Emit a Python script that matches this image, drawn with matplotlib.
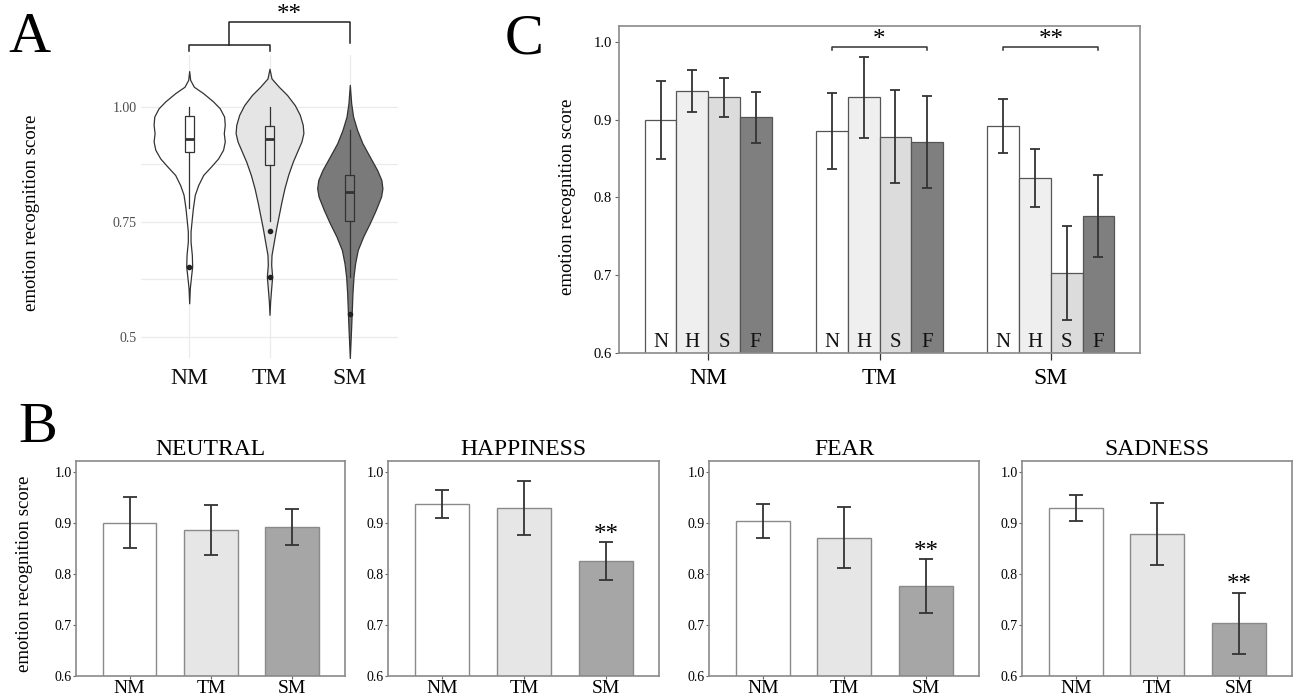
import matplotlib.pyplot as plt
import numpy as np

plt.rcParams['font.family'] = ['Liberation Serif', 'DejaVu Serif']

groups = ['NM', 'TM', 'SM']
emo_short = ['N', 'H', 'S', 'F']

# mean recognition score: rows = groups, cols = N, H, S, F
means = np.array([[0.900, 0.937, 0.929, 0.903],
                  [0.885, 0.929, 0.878, 0.871],
                  [0.892, 0.825, 0.703, 0.776]])
errs = np.array([[0.050, 0.027, 0.025, 0.033],
                 [0.049, 0.052, 0.060, 0.059],
                 [0.035, 0.037, 0.060, 0.053]])

b_titles = ['NEUTRAL', 'HAPPINESS', 'FEAR', 'SADNESS']
b_cols = [0, 1, 3, 2]
b_sig = ['', '**', '**', '**']   # marker above SM bar
c_sig = [(1, '*'), (2, '**')]    # group, N-vs-F bracket label

# violin outlines (score level, half width)
nm_levels = [1.078, 1.059, 1.044, 1.030, 1.012, 0.997, 0.979, 0.961, 0.943, 0.925, 0.907, 0.888,
             0.870, 0.852, 0.830, 0.809, 0.780, 0.751, 0.729, 0.707, 0.678, 0.653, 0.628, 0.606, 0.573]
nm_width = [0, 0.012, 0.058, 0.174, 0.298, 0.381, 0.435, 0.443, 0.431, 0.443, 0.422, 0.360,
            0.269, 0.174, 0.112, 0.070, 0.046, 0.029, 0.017, 0.017, 0.033, 0.037, 0.021, 0.008, 0]
tm_levels = [1.083, 1.062, 1.044, 1.026, 1.004, 0.983, 0.961, 0.943, 0.925, 0.903, 0.881, 0.852,
             0.823, 0.794, 0.765, 0.736, 0.707, 0.678, 0.657, 0.631, 0.606, 0.577, 0.548]
tm_width = [0, 0.025, 0.116, 0.219, 0.315, 0.377, 0.414, 0.422, 0.398, 0.344, 0.290, 0.232,
            0.186, 0.149, 0.116, 0.083, 0.054, 0.025, 0.021, 0.033, 0.021, 0.008, 0]
sm_levels = [1.048, 1.008, 0.979, 0.950, 0.921, 0.892, 0.863, 0.841, 0.823, 0.805, 0.776, 0.747,
             0.718, 0.689, 0.660, 0.631, 0.595, 0.559, 0.522, 0.486, 0.454]
sm_width = [0, 0.017, 0.041, 0.091, 0.157, 0.248, 0.340, 0.393, 0.406, 0.389, 0.323, 0.248,
            0.166, 0.099, 0.066, 0.046, 0.033, 0.025, 0.017, 0.008, 0]

box_stats = [dict(q1=0.901, med=0.931, q3=0.980, whislo=0.780, whishi=1.0, fliers=[0.652]),
             dict(q1=0.874, med=0.931, q3=0.959, whislo=0.752, whishi=1.0, fliers=[0.731, 0.631]),
             dict(q1=0.751, med=0.815, q3=0.851, whislo=0.631, whishi=0.950, fliers=[0.550])]

W, H = 1296, 697
fig = plt.figure(figsize=(W / 100, H / 100), dpi=100)


def px_axes(l, t, w, h):
    return fig.add_axes([l / W, 1 - (t + h) / H, w / W, h / H])


# ---------------- A ----------------
ax = px_axes(141, 55, 257, 303)
violin_fill = ['white', '#e5e5e5', '#7a7a7a']
outlines = [(nm_levels, nm_width), (tm_levels, tm_width), (sm_levels, sm_width)]
for i, (lev, wid) in enumerate(outlines):
    lev = np.array(lev)
    wid = np.array(wid)
    ax.fill_betweenx(lev, i + 1 - wid, i + 1 + wid, facecolor=violin_fill[i],
                     edgecolor='#333333', lw=0.9, zorder=2)
bp = ax.bxp(box_stats, positions=[1, 2, 3], widths=0.11, showcaps=False, patch_artist=True,
            boxprops=dict(edgecolor='#333333', lw=0.9),
            whiskerprops=dict(color='#333333', lw=0.9),
            medianprops=dict(color='#333333', lw=2),
            flierprops=dict(marker='o', markersize=3, markerfacecolor='#222222',
                            markeredgecolor='#222222'),
            zorder=3)
for patch, c in zip(bp['boxes'], violin_fill):
    patch.set_facecolor(c)
ax.set_xlim(0.4, 3.6)
ax.set_ylim(0.454, 1.113)
ax.set_yticks([0.5, 0.75, 1.0])
ax.set_yticklabels(['0.5', '0.75', '1.00'])
ax.set_yticks([0.625, 0.875], minor=True)
ax.set_xticks([1, 2, 3])
ax.set_xticklabels(groups, fontsize=17)
ax.grid(True, which='both', color='#ebebeb', lw=0.9, zorder=0)
ax.set_axisbelow(True)
for s in ax.spines.values():
    s.set_visible(False)
ax.tick_params(axis='y', which='both', length=0, pad=3, labelsize=10, labelcolor='#4d4d4d')
ax.tick_params(axis='x', length=0, pad=7, labelcolor='#111111')
ax.plot([1, 1, 2, 2], [1.122, 1.135, 1.135, 1.122], color='#222222', lw=1.1, clip_on=False)
ax.plot([1.5, 1.5, 3, 3], [1.135, 1.185, 1.185, 1.140], color='#222222', lw=1.1, clip_on=False)
ax.text(2.25, 1.186, '**', ha='center', va='baseline', fontsize=18, clip_on=False)
fig.text(32 / W, 1 - 213 / H, 'emotion recognition score', rotation=90, ha='center',
         va='center', fontsize=13.5)
fig.text(8 / W, 1 - 52 / H, 'A', fontsize=42, va='baseline')

# ---------------- C ----------------
ax = px_axes(619, 26, 521, 327)
c_fill = ['white', '#efefef', '#dcdcdc', '#7f7f7f']
bw = 0.185
x = np.arange(3)
for j in range(4):
    ax.bar(x + (j - 1.5) * bw, means[:, j], bw, yerr=errs[:, j], color=c_fill[j],
           edgecolor='#555555', lw=0.9, capsize=3.8,
           error_kw=dict(ecolor='#333333', elinewidth=1.3, capthick=1.3))
    for i in x:
        ax.text(i + (j - 1.5) * bw, 0.608, emo_short[j], ha='center', va='baseline',
                fontsize=15, color='#111111')
for g, lab in c_sig:
    x0, x1 = g - 1.5 * bw, g + 1.5 * bw
    ax.plot([x0, x0, x1, x1], [0.989, 0.994, 0.994, 0.989], color='#333333', lw=1.1)
    ax.text(g, 0.995, lab, ha='center', va='baseline', fontsize=18)
ax.set_xlim(-0.52, 2.52)
ax.set_ylim(0.6, 1.0205)
ax.set_yticks([0.6, 0.7, 0.8, 0.9, 1.0])
ax.set_yticklabels(['0.6', '0.7', '0.8', '0.9', '1.0'])
ax.set_xticks(x)
ax.set_xticklabels(groups, fontsize=17)
ax.tick_params(axis='y', length=3, width=0.8, pad=2, labelsize=10.5, color='#666666')
ax.tick_params(axis='x', length=5, width=0.9, pad=6, color='#333333')
for s in ax.spines.values():
    s.set_color('#8a8a8a')
    s.set_linewidth(1.2)
fig.text(567 / W, 1 - 197 / H, 'emotion recognition score', rotation=90, ha='center',
         va='center', fontsize=13.5)
fig.text(505 / W, 1 - 53 / H, 'C', fontsize=42, va='baseline')

# ---------------- B ----------------
b_fill = ['white', '#e6e6e6', '#a6a6a6']
b_boxes = [(76, 269), (388, 271), (709, 270), (1022, 270)]
for k, (l, w) in enumerate(b_boxes):
    ax = px_axes(l, 461, w, 215)
    col = b_cols[k]
    ax.bar(x, means[:, col], 0.66, yerr=errs[:, col], color=b_fill, edgecolor='#8a8a8a',
           lw=1.0, capsize=5, error_kw=dict(ecolor='#333333', elinewidth=1.3, capthick=1.3))
    if b_sig[k]:
        ax.text(2, means[2, col] + errs[2, col] + 0.003, b_sig[k], ha='center',
                va='baseline', fontsize=18)
    ax.set_xlim(-0.66, 2.65)
    ax.set_ylim(0.6, 1.021)
    ax.set_yticks([0.6, 0.7, 0.8, 0.9, 1.0])
    ax.set_yticklabels(['0.6', '0.7', '0.8', '0.9', '1.0'])
    ax.set_xticks(x)
    ax.set_xticklabels(groups, fontsize=14)
    ax.tick_params(axis='y', length=2, width=0.8, pad=1, labelsize=10, color='#666666')
    ax.tick_params(axis='x', length=2, width=0.8, pad=1, color='#666666')
    for s in ax.spines.values():
        s.set_color('#8a8a8a')
        s.set_linewidth(1.2)
    ax.set_title(b_titles[k], fontsize=17, pad=4)
fig.text(25 / W, 1 - 574 / H, 'emotion recognition score', rotation=90, ha='center',
         va='center', fontsize=13.5)
fig.text(18 / W, 1 - 442 / H, 'B', fontsize=42, va='baseline')

fig.savefig('out.png', dpi=100)
